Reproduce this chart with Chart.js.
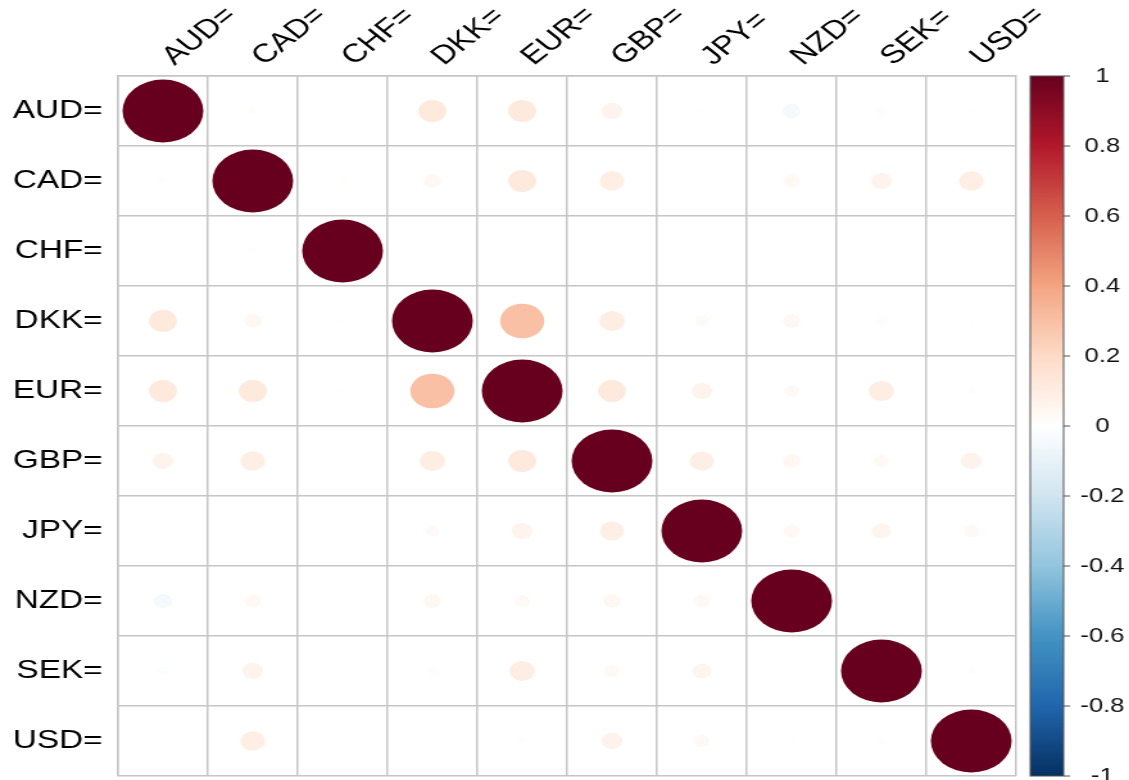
<!doctype html>
<html lang="en">
<head>
<meta charset="UTF-8" />
<title>Exchange rate correlations</title>
<style>
  html, body { margin: 0; padding: 0; background: #fff; overflow: hidden; }
  /* the reference is a square corrplot stretched sideways, so draw square and stretch */
  #wrap { position: absolute; left: 0; top: 0; width: 880px; height: 780px;
          transform: scaleX(1.283); transform-origin: 0 0; }
</style>
</head>
<body>
<div id="wrap"><canvas id="chart" width="880" height="780"></canvas></div>
<script src="https://cdn.jsdelivr.net/npm/chart.js"></script>
<script>
const CODES = ['AUD=', 'CAD=', 'CHF=', 'DKK=', 'EUR=', 'GBP=', 'JPY=', 'NZD=', 'SEK=', 'USD='];

// correlation rows, same order as CODES
const AUD = [1, 0.01, -0.003, 0.12, 0.12, 0.065, -0.004, -0.05, -0.017, 0.003];
const CAD = [0.01, 1, 0.008, 0.047, 0.12, 0.095, 0.002, 0.04, 0.065, 0.095];
const CHF = [-0.003, 0.008, 1, 0.003, 0.003, 0.003, 0.002, -0.002, -0.003, -0.002];
const DKK = [0.12, 0.047, 0.003, 1, 0.30, 0.10, 0.03, 0.045, 0.015, 0.005];
const EUR = [0.12, 0.12, 0.003, 0.30, 1, 0.12, 0.065, 0.035, 0.10, 0.01];
const GBP = [0.065, 0.095, 0.003, 0.10, 0.12, 1, 0.09, 0.045, 0.035, 0.068];
const JPY = [-0.004, 0.002, 0.002, 0.03, 0.065, 0.09, 1, 0.04, 0.058, 0.035];
const NZD = [-0.05, 0.04, -0.002, 0.045, 0.035, 0.045, 0.04, 1, -0.006, 0.004];
const SEK = [-0.017, 0.065, -0.003, 0.015, 0.10, 0.035, 0.058, -0.006, 1, 0.01];
const USD = [0.003, 0.095, -0.002, 0.005, 0.01, 0.068, 0.035, 0.004, 0.01, 1];
const ROWS = [AUD, CAD, CHF, DKK, EUR, GBP, JPY, NZD, SEK, USD];

const LEGEND_TICKS = [-1, -0.8, -0.6, -0.4, -0.2, 0, 0.2, 0.4, 0.6, 0.8, 1];

// RdBu palette from -1 to 1
const RDBU = ['#053061', '#2166AC', '#4393C3', '#92C5DE', '#D1E5F0', '#FFFFFF',
              '#FDDBC7', '#F4A582', '#D6604D', '#B2182B', '#67001F'];

const Y_AXIS_W = 92;
const CB_W = 88;

function hex(c) {
    return [1, 3, 5].map(i => parseInt(c.slice(i, i + 2), 16));
}

function colorFor(v) {
    let t = (Math.max(-1, Math.min(1, v)) + 1) / 2 * (RDBU.length - 1);
    let i = Math.min(Math.floor(t), RDBU.length - 2);
    let f = t - i;
    let a = hex(RDBU[i]), b = hex(RDBU[i + 1]);
    let c = a.map((x, k) => Math.round(x + (b[k] - x) * f));
    return 'rgb(' + c.join(',') + ')';
}

let points = [];
ROWS.forEach((row, i) => {
    row.forEach((v, j) => points.push({ x: CODES[j], y: CODES[i], v: v }));
});

const FONT = "'Liberation Sans', Arial, sans-serif";
const GRID = '#c6c6c6';

const colorBar = {
    id: 'colorBar',
    afterDraw(chart) {
        const s = chart.scales.cb;
        const a = chart.chartArea;
        const ctx = chart.ctx;
        const x0 = a.right + 11, w = 26;
        const yTop = s.getPixelForValue(1), yBot = s.getPixelForValue(-1);
        const g = ctx.createLinearGradient(0, yBot, 0, yTop);
        RDBU.forEach((c, i) => g.addColorStop(i / (RDBU.length - 1), c));
        ctx.save();
        ctx.fillStyle = g;
        ctx.fillRect(x0, yTop, w, yBot - yTop);
        ctx.strokeStyle = '#555';
        ctx.lineWidth = 1;
        ctx.strokeRect(x0, yTop, w, yBot - yTop);
        ctx.beginPath();
        for (let t of s.ticks) {
            let y = s.getPixelForValue(t.value);
            ctx.moveTo(x0 + w, y);
            ctx.lineTo(x0 + w + 5, y);
        }
        ctx.stroke();
        ctx.restore();
    }
};

new Chart(document.getElementById('chart'), {
    type: 'bubble',
    data: {
        datasets: [{
            xAxisID: 'x',
            yAxisID: 'y',
            data: points,
            borderWidth: 0,
            hoverRadius: 0,
            backgroundColor: ctx => ctx.raw ? colorFor(ctx.raw.v) : '#fff',
            // circle area follows |r|, full cell gets 0.9 of the width
            radius: ctx => {
                if (!ctx.raw) return 0;
                const cell = (ctx.chart.width - Y_AXIS_W - CB_W) / CODES.length;
                return 0.45 * cell * Math.sqrt(Math.abs(ctx.raw.v));
            },
        }],
    },
    options: {
        responsive: false,
        animation: false,
        events: [],
        layout: { autoPadding: false, padding: { left: 0, right: 0, top: 0, bottom: 4 } },
        plugins: { legend: { display: false }, tooltip: { enabled: false } },
        scales: {
            x: {
                type: 'category',
                labels: CODES,
                position: 'top',
                offset: true,
                grid: { offset: true, color: GRID, lineWidth: 1.5, drawTicks: false },
                border: { color: GRID, width: 1.5 },
                ticks: {
                    minRotation: 45, maxRotation: 45, padding: 4, labelOffset: 26,
                    color: '#000', font: { family: FONT, size: 26 },
                },
                afterFit: s => { s.height = 76; s.paddingLeft = 0; s.paddingRight = 0; },
            },
            y: {
                type: 'category',
                labels: CODES,
                position: 'left',
                offset: true,
                grid: { offset: true, color: GRID, lineWidth: 1.5, drawTicks: false },
                border: { color: GRID, width: 1.5 },
                ticks: { padding: 12, color: '#000', font: { family: FONT, size: 26 } },
                afterFit: s => { s.width = Y_AXIS_W; s.paddingTop = 0; s.paddingBottom = 0; },
            },
            cb: {
                type: 'linear',
                position: 'right',
                min: -1,
                max: 1,
                grid: { display: false, drawTicks: false },
                border: { display: false },
                ticks: {
                    padding: 50, crossAlign: 'center', color: '#111',
                    font: { family: FONT, size: 20 },
                    callback: v => String(v),
                },
                afterBuildTicks: s => { s.ticks = LEGEND_TICKS.map(v => ({ value: v })); },
                afterFit: s => { s.width = CB_W; s.paddingTop = 0; s.paddingBottom = 0; },
            },
        },
    },
    plugins: [colorBar],
});
</script>
</body>
</html>
